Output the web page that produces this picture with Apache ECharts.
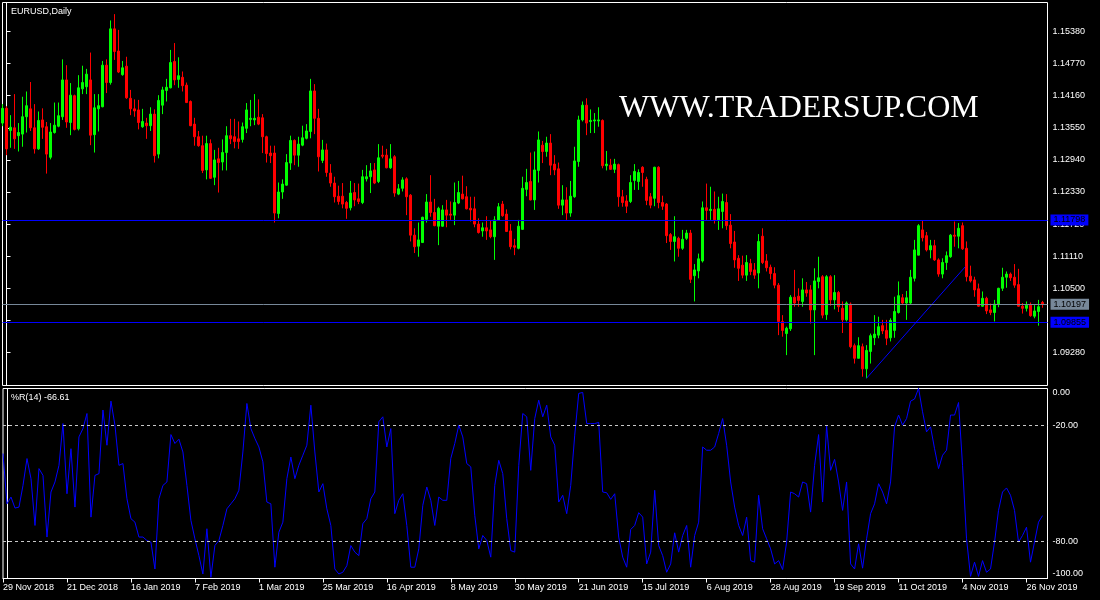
<!DOCTYPE html>
<html><head><meta charset="utf-8">
<script src="https://cdn.jsdelivr.net/npm/echarts@6/dist/echarts.min.js"></script>
<style>html,body{margin:0;padding:0;background:#000}#c{width:1100px;height:600px}</style>
</head><body><div id="c"></div>
<script>
const symbolTitle = 'EURUSD,Daily';
const indicatorTitle = '%R(14) -66.61';
const watermarkText = 'WWW.TRADERSUP.COM';

// Daily candles [open, close, low, high], first entry = 29 Nov 2018 (bar index -1)
const candles = [
[1.1364,1.1392,1.1358,1.1400],[1.1392,1.1315,1.1303,1.1396],[1.1350,1.1356,1.1317,1.1379],[1.1355,1.1334,1.1315,1.1419],
[1.1340,1.1346,1.1310,1.1364],[1.1343,1.1376,1.1319,1.1414],[1.1376,1.1397,1.1346,1.1424],[1.1391,1.1355,1.1349,1.1442],
[1.1355,1.1315,1.1306,1.1400],[1.1315,1.1369,1.1313,1.1386],[1.1370,1.1356,1.1334,1.1392],[1.1357,1.1305,1.1268,1.1366],
[1.1299,1.1347,1.1295,1.1364],[1.1346,1.1360,1.1344,1.1403],[1.1358,1.1378,1.1356,1.1403],[1.1376,1.1446,1.1370,1.1485],
[1.1446,1.1366,1.1355,1.1474],[1.1365,1.1417,1.1341,1.1440],[1.1416,1.1352,1.1350,1.1418],[1.1353,1.1431,1.1350,1.1455],
[1.1429,1.1441,1.1419,1.1473],[1.1433,1.1457,1.1419,1.1467],[1.1446,1.1341,1.1322,1.1498],[1.1342,1.1393,1.1308,1.1419],
[1.1391,1.1397,1.1348,1.1419],[1.1395,1.1474,1.1394,1.1482],[1.1474,1.1441,1.1421,1.1485],[1.1441,1.1543,1.1437,1.1559],
[1.1543,1.1500,1.1484,1.1571],[1.1501,1.1461,1.1459,1.1541],[1.1456,1.1469,1.1454,1.1482],[1.1472,1.1412,1.1410,1.1490],
[1.1411,1.1391,1.1379,1.1427],[1.1391,1.1387,1.1376,1.1409],[1.1389,1.1365,1.1352,1.1408],[1.1357,1.1367,1.1355,1.1391],
[1.1364,1.1359,1.1334,1.1374],[1.1359,1.1381,1.1349,1.1394],[1.1381,1.1302,1.1289,1.1390],[1.1305,1.1407,1.1297,1.1417],
[1.1398,1.1427,1.1381,1.1433],[1.1426,1.1432,1.1405,1.1448],[1.1431,1.1479,1.1430,1.1503],[1.1481,1.1446,1.1436,1.1516],
[1.1447,1.1454,1.1431,1.1489],[1.1451,1.1435,1.1424,1.1462],[1.1436,1.1403,1.1402,1.1441],[1.1405,1.1359,1.1358,1.1407],
[1.1362,1.1338,1.1321,1.1374],[1.1338,1.1321,1.1319,1.1349],[1.1321,1.1274,1.1269,1.1340],[1.1275,1.1325,1.1257,1.1340],
[1.1325,1.1259,1.1258,1.1333],[1.1261,1.1294,1.1246,1.1313],[1.1296,1.1289,1.1232,1.1317],[1.1290,1.1308,1.1274,1.1333],
[1.1308,1.1340,1.1274,1.1358],[1.1340,1.1334,1.1324,1.1372],[1.1338,1.1329,1.1316,1.1372],[1.1334,1.1329,1.1315,1.1367],
[1.1333,1.1357,1.1327,1.1365],[1.1354,1.1389,1.1345,1.1402],[1.1371,1.1373,1.1358,1.1408],[1.1370,1.1373,1.1360,1.1419],
[1.1375,1.1362,1.1360,1.1409],[1.1374,1.1338,1.1307,1.1381],[1.1338,1.1306,1.1289,1.1340],[1.1307,1.1302,1.1288,1.1321],
[1.1307,1.1193,1.1175,1.1321],[1.1192,1.1233,1.1183,1.1251],[1.1233,1.1248,1.1220,1.1257],[1.1246,1.1289,1.1245,1.1305],
[1.1288,1.1331,1.1275,1.1340],[1.1331,1.1303,1.1284,1.1333],[1.1303,1.1324,1.1281,1.1338],[1.1322,1.1336,1.1320,1.1359],
[1.1335,1.1349,1.1333,1.1362],[1.1348,1.1425,1.1335,1.1448],[1.1425,1.1373,1.1343,1.1438],[1.1373,1.1300,1.1272,1.1391],
[1.1293,1.1313,1.1288,1.1332],[1.1313,1.1270,1.1262,1.1325],[1.1269,1.1250,1.1243,1.1286],[1.1250,1.1224,1.1213,1.1262],
[1.1225,1.1215,1.1209,1.1245],[1.1225,1.1210,1.1202,1.1250],[1.1213,1.1202,1.1182,1.1216],[1.1203,1.1231,1.1198,1.1254],
[1.1232,1.1218,1.1206,1.1250],[1.1220,1.1215,1.1210,1.1249],[1.1213,1.1262,1.1210,1.1275],[1.1258,1.1262,1.1253,1.1284],
[1.1262,1.1273,1.1231,1.1288],[1.1275,1.1250,1.1248,1.1288],[1.1253,1.1298,1.1250,1.1324],[1.1303,1.1301,1.1297,1.1321],
[1.1303,1.1279,1.1278,1.1315],[1.1279,1.1296,1.1277,1.1324],[1.1300,1.1231,1.1224,1.1303],[1.1229,1.1239,1.1227,1.1248],
[1.1240,1.1256,1.1234,1.1261],[1.1258,1.1224,1.1189,1.1261],[1.1227,1.1151,1.1139,1.1229],[1.1151,1.1129,1.1117,1.1164],
[1.1130,1.1142,1.1110,1.1175],[1.1137,1.1185,1.1136,1.1186],[1.1181,1.1214,1.1175,1.1229],[1.1214,1.1194,1.1186,1.1265],
[1.1194,1.1169,1.1168,1.1220],[1.1168,1.1202,1.1132,1.1205],[1.1168,1.1199,1.1167,1.1208],[1.1199,1.1189,1.1166,1.1218],
[1.1191,1.1189,1.1180,1.1215],[1.1189,1.1213,1.1170,1.1251],[1.1212,1.1232,1.1210,1.1254],[1.1229,1.1220,1.1219,1.1264],
[1.1224,1.1201,1.1200,1.1244],[1.1202,1.1199,1.1177,1.1224],[1.1201,1.1172,1.1166,1.1224],[1.1172,1.1156,1.1154,1.1183],
[1.1159,1.1165,1.1148,1.1175],[1.1165,1.1159,1.1142,1.1187],[1.1161,1.1148,1.1145,1.1179],[1.1148,1.1180,1.1104,1.1187],
[1.1180,1.1205,1.1179,1.1212],[1.1210,1.1188,1.1186,1.1216],[1.1191,1.1158,1.1157,1.1200],[1.1159,1.1129,1.1124,1.1172],
[1.1131,1.1128,1.1113,1.1144],[1.1126,1.1168,1.1124,1.1180],[1.1162,1.1240,1.1161,1.1262],[1.1238,1.1251,1.1225,1.1277],
[1.1253,1.1218,1.1217,1.1308],[1.1218,1.1275,1.1199,1.1310],[1.1274,1.1332,1.1251,1.1348],[1.1322,1.1310,1.1288,1.1330],
[1.1310,1.1326,1.1300,1.1338],[1.1326,1.1284,1.1265,1.1343],[1.1286,1.1275,1.1265,1.1303],[1.1277,1.1208,1.1201,1.1289],
[1.1208,1.1218,1.1189,1.1246],[1.1218,1.1193,1.1180,1.1242],[1.1193,1.1225,1.1186,1.1254],[1.1224,1.1292,1.1222,1.1319],
[1.1291,1.1370,1.1281,1.1378],[1.1370,1.1398,1.1367,1.1405],[1.1398,1.1364,1.1341,1.1411],[1.1367,1.1369,1.1345,1.1390],
[1.1368,1.1370,1.1345,1.1383],[1.1368,1.1370,1.1357,1.1394],[1.1369,1.1283,1.1278,1.1371],[1.1283,1.1286,1.1274,1.1311],
[1.1284,1.1276,1.1275,1.1296],[1.1276,1.1286,1.1269,1.1296],[1.1285,1.1224,1.1205,1.1287],[1.1224,1.1213,1.1205,1.1237],
[1.1216,1.1206,1.1193,1.1227],[1.1215,1.1251,1.1212,1.1265],[1.1255,1.1272,1.1237,1.1286],[1.1253,1.1270,1.1237,1.1276],
[1.1280,1.1270,1.1243,1.1282],[1.1257,1.1217,1.1208,1.1262],[1.1224,1.1208,1.1202,1.1231],[1.1221,1.1280,1.1206,1.1281],
[1.1280,1.1213,1.1202,1.1282],[1.1213,1.1206,1.1199,1.1226],[1.1210,1.1150,1.1136,1.1212],[1.1152,1.1139,1.1123,1.1155],
[1.1139,1.1148,1.1101,1.1187],[1.1145,1.1126,1.1110,1.1148],[1.1126,1.1143,1.1123,1.1161],[1.1145,1.1155,1.1142,1.1161],
[1.1155,1.1067,1.1060,1.1161],[1.1074,1.1085,1.1025,1.1096],[1.1083,1.1106,1.1069,1.1116],[1.1102,1.1203,1.1099,1.1215],
[1.1203,1.1198,1.1180,1.1249],[1.1198,1.1200,1.1180,1.1243],[1.1200,1.1180,1.1173,1.1234],[1.1180,1.1201,1.1161,1.1224],
[1.1196,1.1215,1.1164,1.1230],[1.1213,1.1169,1.1161,1.1229],[1.1170,1.1135,1.1126,1.1191],[1.1138,1.1104,1.1089,1.1159],
[1.1107,1.1088,1.1064,1.1113],[1.1094,1.1075,1.1069,1.1112],[1.1075,1.1099,1.1064,1.1113],[1.1097,1.1082,1.1075,1.1106],
[1.1085,1.1075,1.1068,1.1098],[1.1079,1.1139,1.1050,1.1153],[1.1149,1.1099,1.1096,1.1164],[1.1102,1.1089,1.1082,1.1115],
[1.1090,1.1078,1.1067,1.1095],[1.1078,1.1056,1.1050,1.1090],[1.1056,1.0987,1.0961,1.1060],[1.0987,1.0970,1.0958,1.0999],
[1.0964,1.0974,1.0923,1.0977],[1.0973,1.1033,1.0969,1.1037],[1.1033,1.1022,1.1015,1.1085],[1.1035,1.1027,1.1015,1.1050],
[1.1025,1.1047,1.1015,1.1069],[1.1047,1.1041,1.1034,1.1062],[1.1047,1.1009,1.0983,1.1056],[1.1009,1.1064,1.0923,1.1088],
[1.1063,1.1070,1.1050,1.1110],[1.1072,1.0999,1.0993,1.1075],[1.1000,1.1072,1.0990,1.1075],[1.1072,1.1028,1.1017,1.1075],
[1.1028,1.1042,1.1010,1.1075],[1.1042,1.1015,1.1005,1.1045],[1.1012,1.0990,1.0965,1.1025],[1.0990,1.1022,1.0987,1.1025],
[1.1020,1.0939,1.0936,1.1023],[1.0941,1.0917,1.0907,1.0945],[1.0917,1.0941,1.0917,1.0957],[1.0939,1.0897,1.0882,1.0945],
[1.0897,1.0932,1.0879,1.0942],[1.0930,1.0960,1.0907,1.0964],[1.0956,1.0963,1.0942,1.0999],[1.0961,1.0977,1.0955,1.0996],
[1.0979,1.0969,1.0963,1.0990],[1.0970,1.0955,1.0942,1.0990],[1.0956,1.0989,1.0949,1.0993],[1.0970,1.1006,1.0956,1.1034],
[1.1004,1.1036,1.1002,1.1063],[1.1032,1.1022,1.1019,1.1039],[1.1022,1.1032,1.0990,1.1045],[1.1022,1.1071,1.1020,1.1085],
[1.1069,1.1123,1.1063,1.1142],[1.1113,1.1169,1.1113,1.1172],[1.1161,1.1146,1.1139,1.1178],[1.1150,1.1123,1.1120,1.1157],
[1.1123,1.1131,1.1107,1.1142],[1.1131,1.1104,1.1102,1.1142],[1.1104,1.1077,1.1072,1.1107],[1.1077,1.1099,1.1069,1.1107],
[1.1099,1.1112,1.1085,1.1120],[1.1110,1.1151,1.1108,1.1153],[1.1151,1.1149,1.1129,1.1177],[1.1149,1.1164,1.1126,1.1174],
[1.1169,1.1125,1.1123,1.1175],[1.1126,1.1072,1.1063,1.1139],[1.1073,1.1064,1.1061,1.1093],[1.1066,1.1047,1.1034,1.1072],
[1.1049,1.1016,1.1015,1.1059],[1.1016,1.1031,1.1015,1.1044],[1.1031,1.1007,1.1001,1.1034],[1.1009,1.1004,1.0999,1.1021],
[1.1004,1.1020,1.0987,1.1028],[1.1020,1.1050,1.1014,1.1051],[1.1050,1.1071,1.1045,1.1089],[1.1071,1.1077,1.1051,1.1082],
[1.1077,1.1070,1.1064,1.1080],[1.1071,1.1056,1.1051,1.1096],[1.1057,1.1016,1.1015,1.1087],[1.1016,1.1012,1.1002,1.1022],
[1.1012,1.1018,1.1006,1.1025],[1.1018,1.0998,1.0996,1.1023],[1.0997,1.1007,1.0993,1.1018],[1.1006,1.1015,1.0979,1.1028],
[1.1023,1.1020,1.1013,1.1026]
];

// Williams %R(14), one value per candle
const williamsR = [
-34.5,-60.5,-57.0,-62.7,-62.2,-51.0,-37.1,-47.5,-71.7,-42.3,-45.8,
-77.7,-54.4,-49.2,-40.6,-19.0,-55.3,-32.0,-62.2,-25.9,-21.6,
-13.8,-67.4,-45.8,-44.9,-12.0,-30.2,-7.4,-19.8,-40.6,-39.7,
-57.9,-68.2,-70.0,-77.7,-77.7,-79.5,-80.3,-94.2,-57.9,-51.0,
-49.2,-24.7,-29.3,-27.1,-33.7,-51.0,-69.1,-78.6,-87.3,-96.8,
-73.4,-98.5,-82.1,-79.5,-71.7,-63.1,-60.5,-57.9,-53.5,-33.7,
-8.6,-21.6,-26.7,-31.1,-38.8,-59.6,-60.5,-93.3,-75.2,-70.0,
-47.5,-36.3,-47.5,-40.6,-35.4,-30.2,-9.5,-33.7,-54.4,-50.1,
-63.1,-71.7,-94.2,-96.8,-95.9,-92.5,-82.1,-85.5,-87.3,-70.8,
-68.2,-57.9,-54.4,-18.1,-15.5,-31.1,-21.6,-65.6,-58.7,-55.3,
-71.7,-93.3,-93.3,-83.8,-61.3,-51.8,-58.7,-71.7,-57.0,-58.7,
-58.7,-37.1,-29.3,-19.8,-25.9,-39.7,-41.4,-66.5,-83.8,-76.9,
-79.5,-88.1,-51.0,-38.0,-44.9,-68.2,-84.7,-85.5,-40.6,-13.8,
-15.5,-43.2,-16.4,-6.9,-15.5,-9.5,-25.9,-30.2,-59.6,-56.1,
-65.6,-51.0,-25.0,-3.4,-2.9,-19.0,-19.0,-19.0,-18.4,-54.4,
-54.8,-58.2,-55.3,-77.7,-88.1,-93.3,-73.8,-71.7,-65.1,-67.4,
-91.6,-85.5,-53.5,-82.1,-87.3,-95.9,-91.6,-75.5,-85.5,-76.9,
-71.7,-93.3,-76.9,-70.0,-31.1,-32.8,-32.8,-31.1,-24.1,-16.4,
-30.2,-49.2,-62.2,-71.7,-76.9,-67.4,-89.9,-90.7,-56.1,-73.4,
-78.6,-83.8,-91.6,-89.9,-94.5,-80.3,-54.4,-55.3,-57.0,-49.2,
-50.1,-64.8,-40.6,-24.7,-59.6,-20.2,-43.2,-37.5,-49.2,-63.9,
-49.2,-91.6,-94.2,-81.2,-93.8,-78.6,-65.6,-60.5,-50.1,-54.4,
-60.5,-49.2,-20.7,-14.6,-19.8,-16.4,-7.4,-6.3,-0.8,-12.9,
-23.3,-20.7,-32.0,-42.3,-35.4,-32.8,-14.6,-14.6,-8.1,-40.6,
-78.6,-98.0,-90.7,-98.0,-89.9,-95.9,-94.2,-80.3,-63.9,-54.4,
-52.3,-56.1,-63.9,-80.3,-76.9,-72.6,-90.7,-80.3,-70.0,-66.61
];

const priceTickLabels = [1.09280,1.09890,1.10500,1.11110,1.11720,1.12330,1.12940,1.13550,1.14160,1.14770,1.15380];
const horizontalLevels = [1.11798, 1.09855];
const bidPrice = 1.10197;
const wprLevels = [-20, -80];
const trendLine = [[215, 1.0879], [239.7, 1.1091]];
const timeTickLabels = ['29 Nov 2018','21 Dec 2018','16 Jan 2019','7 Feb 2019','1 Mar 2019','25 Mar 2019','16 Apr 2019','8 May 2019','30 May 2019','21 Jun 2019','15 Jul 2019','6 Aug 2019','28 Aug 2019','19 Sep 2019','11 Oct 2019','4 Nov 2019','26 Nov 2019'];

// trading-day categories (broker skips weekends, 25 Dec and 1 Jan)
const MONTHS = ['Jan','Feb','Mar','Apr','May','Jun','Jul','Aug','Sep','Oct','Nov','Dec'];
const closedDays = ['2018-12-25','2019-01-01'];
const dates = [];
for (let t = Date.UTC(2018,10,29); dates.length < candles.length; t += 86400000) {
  const d = new Date(t), wd = d.getUTCDay(), iso = d.toISOString().slice(0,10);
  if (wd !== 0 && wd !== 6 && closedDays.indexOf(iso) < 0)
    dates.push(d.getUTCDate() + ' ' + MONTHS[d.getUTCMonth()] + ' ' + d.getUTCFullYear());
}
const FIRST = -1; // bar number of dates[0]
const timeTickIdx = timeTickLabels.map(s => dates.indexOf(s) + FIRST);

const FONT = 'Liberation Sans';
const X_MIN = -1.0, X_MAX = 260.25;
const P_MIN = 1.086529, P_MAX = 1.159311;
const R_MIN = -99.138, R_MAX = -0.862;

const chart = echarts.init(document.getElementById('c'), null, {renderer: 'canvas'});
const levelLabel = (txt, bg) => ({show: true, position: 'end', distance: 3, formatter: txt, backgroundColor: bg,
  color: '#000', fontSize: 9, fontFamily: FONT, padding: [1, 3, 1, 3], lineHeight: 9});

chart.setOption({
  backgroundColor: '#000',
  animation: false,
  title: [
    {text: symbolTitle, left: 6, top: 2, textStyle: {color: '#fff', fontSize: 9, fontWeight: 'normal', fontFamily: FONT}},
    {text: indicatorTitle, left: 6, top: 388, textStyle: {color: '#fff', fontSize: 9, fontWeight: 'normal', fontFamily: FONT}}
  ],
  graphic: [{
    type: 'text', x: 619, y: 109, z: 100, silent: true,
    style: {text: watermarkText, font: '32px "Liberation Serif"', fill: '#ffffff', verticalAlign: 'middle',
      textShadowColor: '#2040ff', textShadowOffsetX: -1, textShadowOffsetY: 1, textShadowBlur: 0}
  }],
  grid: [
    {left: 2.5, top: 2.5, width: 1045, height: 383, show: true, borderColor: '#fff', borderWidth: 1, backgroundColor: 'transparent'},
    {left: 2.5, top: 388.5, width: 1045, height: 190, show: true, borderColor: '#fff', borderWidth: 1, backgroundColor: 'transparent'}
  ],
  xAxis: [
    {type: 'value', gridIndex: 0, min: X_MIN, max: X_MAX, show: false},
    {type: 'value', gridIndex: 1, min: X_MIN, max: X_MAX, position: 'bottom',
      axisLine: {show: true, lineStyle: {color: '#fff', width: 1}},
      axisTick: {show: true, customValues: timeTickIdx, length: 4, lineStyle: {color: '#fff'}},
      axisLabel: {show: true, customValues: timeTickIdx, formatter: v => dates[Math.round(v) - FIRST],
        color: '#fff', fontSize: 9, fontFamily: FONT, align: 'left', margin: 5},
      splitLine: {show: false}}
  ],
  yAxis: [
    {type: 'value', gridIndex: 0, position: 'right', min: P_MIN, max: P_MAX,
      axisLine: {show: true, lineStyle: {color: '#fff'}},
      axisTick: {show: true, customValues: priceTickLabels, length: 4, lineStyle: {color: '#fff'}},
      axisLabel: {show: true, customValues: priceTickLabels, formatter: v => v.toFixed(5), color: '#fff', fontSize: 9, fontFamily: FONT, margin: 5},
      splitLine: {show: false}},
    {type: 'value', gridIndex: 1, position: 'right', min: R_MIN, max: R_MAX,
      axisLine: {show: true, lineStyle: {color: '#fff'}},
      axisTick: {show: true, customValues: [R_MAX, wprLevels[0], wprLevels[1], R_MIN], length: 4, lineStyle: {color: '#fff'}},
      axisLabel: {show: true, customValues: [-2.93, wprLevels[0], wprLevels[1], -96.45],
        formatter: v => v > -10 ? '0.00' : (v < -90 ? '-100.00' : v.toFixed(2)),
        color: '#fff', fontSize: 9, fontFamily: FONT, margin: 5},
      splitLine: {show: false}}
  ],
  series: [
    {
      type: 'candlestick', xAxisIndex: 0, yAxisIndex: 0,
      data: candles.map((c, i) => [i + FIRST, c[0], c[1], c[2], c[3]]),
      encode: {x: 0, y: [1, 2, 3, 4]},
      barWidth: 2, clip: true,
      itemStyle: {color: '#00ff00', color0: '#ff0000', borderColor: '#00ff00', borderColor0: '#ff0000', borderWidth: 1}
    },
    {
      // trend line drawn from its two anchor points; horizontal price levels attached as mark lines
      type: 'line', xAxisIndex: 0, yAxisIndex: 0, z: 3,
      data: trendLine,
      symbol: 'none', lineStyle: {color: '#0000ff', width: 1}, clip: true,
      markLine: {
        silent: true, symbol: 'none', animation: false, precision: 5,
        data: [
          {yAxis: horizontalLevels[0], lineStyle: {color: '#0000ff', width: 1, type: 'solid'}, label: levelLabel(horizontalLevels[0].toFixed(5), '#0000ff')},
          {yAxis: horizontalLevels[1], lineStyle: {color: '#0000ff', width: 1, type: 'solid'}, label: levelLabel(horizontalLevels[1].toFixed(5), '#0000ff')},
          {yAxis: bidPrice, lineStyle: {color: '#778899', width: 1, type: 'solid'}, label: levelLabel(bidPrice.toFixed(5), '#778899')}
        ]
      }
    },
    {
      type: 'line', xAxisIndex: 1, yAxisIndex: 1,
      data: williamsR.map((v, i) => [i + FIRST, v]),
      symbol: 'none', lineStyle: {color: '#0000ff', width: 1}, clip: true,
      markLine: {
        silent: true, symbol: 'none', animation: false, precision: 2,
        lineStyle: {color: '#c8c8c8', width: 1, type: [3, 3]},
        label: {show: false},
        data: wprLevels.map(v => ({yAxis: v}))
      }
    }
  ]
});
</script>
</body></html>
